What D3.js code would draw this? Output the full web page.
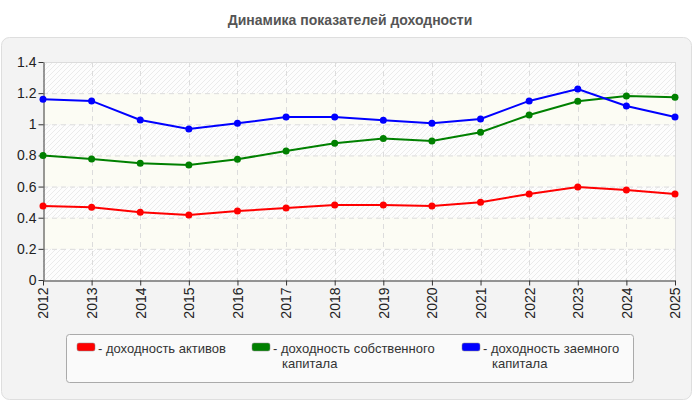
<!DOCTYPE html>
<html>
<head>
<meta charset="utf-8">
<script src="https://cdn.jsdelivr.net/npm/d3@7"></script>
<style>
body{margin:0;background:#fff;font-family:"Liberation Sans",Arial,sans-serif;}
</style>
</head>
<body>
<svg id="chart" width="700" height="400"></svg>
<script>
var years=[2012,2013,2014,2015,2016,2017,2018,2019,2020,2021,2022,2023,2024,2025];
var assets=[0.475,0.467,0.435,0.417,0.443,0.462,0.481,0.481,0.476,0.5,0.553,0.597,0.578,0.553];
var equity=[0.8,0.777,0.749,0.738,0.775,0.829,0.878,0.908,0.893,0.949,1.06,1.148,1.182,1.173];
var debt=[1.16,1.15,1.028,0.97,1.006,1.047,1.047,1.026,1.006,1.034,1.15,1.227,1.117,1.047];
var yTicks=[0,0.2,0.4,0.6,0.8,1,1.2,1.4];
var names=["- доходность активов",["- доходность собственного","капитала"],["- доходность заемного","капитала"]];
var colours=["#ff0000","#008000","#0000ff"];

var svg=d3.select("#chart");
var margin={top:62,left:43},
width=632,height=218;

var x=d3.scaleLinear().domain([2012,2025]).range([0,width]);
var y=d3.scaleLinear().domain([0,1.4]).range([height,0]);

// title
svg.append("text").attr("x",350).attr("y",25).attr("text-anchor","middle")
 .style("font-size","14px").style("font-weight","bold").style("fill","#555")
 .text("Динамика показателей доходности");

// panel
svg.append("rect").attr("x",1.5).attr("y",37.5).attr("width",690).attr("height",362)
 .attr("rx",8).attr("fill","#f3f3f3").attr("stroke","#dedede");

var defs=svg.append("defs");
var pat=defs.append("pattern").attr("id","hatch").attr("patternUnits","userSpaceOnUse")
 .attr("width",5).attr("height",5);
pat.append("rect").attr("width",5).attr("height",5).attr("fill","#fdfdfd");
pat.append("path").attr("d","M-1,1 l2,-2 M0,5 l5,-5 M4,6 l2,-2").attr("stroke","#ebebeb").attr("stroke-width",1);

var g=svg.append("g").attr("transform","translate("+margin.left+","+margin.top+")");

// bands
for(var i=0;i<yTicks.length-1;i++){
  g.append("rect").attr("x",0).attr("width",width)
   .attr("y",y(yTicks[i+1])).attr("height",y(yTicks[i])-y(yTicks[i+1]))
   .attr("fill",i%2==0?"url(#hatch)":"#fcfcf4");
}

// grid
g.selectAll(".hgrid").data(yTicks.slice(1)).enter().append("line")
 .attr("x1",0).attr("x2",width).attr("y1",function(d){return y(d)+0.5;}).attr("y2",function(d){return y(d)+0.5;})
 .attr("stroke","#dcdcdc").attr("stroke-dasharray",function(d){return d==1.4?null:"5,4";});
g.selectAll(".vgrid").data(years.slice(1)).enter().append("line")
 .attr("y1",0).attr("y2",height).attr("x1",function(d){return Math.round(x(d))+0.5;}).attr("x2",function(d){return Math.round(x(d))+0.5;})
 .attr("stroke","#dcdcdc").attr("stroke-dasharray",function(d){return d==2025?null:"5,4";});

// axes
var Yaxis=g.append("g").attr("transform","translate(0.5,0)")
 .call(d3.axisLeft(y).tickValues(yTicks).tickFormat(function(d){return d3.format("")(+d.toFixed(1));}).tickSize(5).tickSizeOuter(0));
var Xaxis=g.append("g").attr("transform","translate(0,"+(height+0.5)+")")
 .call(d3.axisBottom(x).tickValues(years).tickFormat(d3.format("d")).tickSize(5).tickSizeOuter(0));
[Yaxis,Xaxis].forEach(function(a){
  a.select(".domain").attr("stroke","#333");
  a.selectAll(".tick line").attr("stroke","#333");
  a.selectAll("text").style("font-size","14px").style("fill","#222").style("font-family","'Liberation Sans',Arial,sans-serif");
});
Yaxis.selectAll("text").attr("x",-7);
Xaxis.selectAll("text").attr("transform","rotate(-90)").attr("text-anchor","end")
 .attr("x",-7).attr("y",0).attr("dy","0.35em");

// lines
[assets,equity,debt].forEach(function(vals,k){
  var data=years.map(function(yr,j){return {year:yr,v:vals[j]};});
  var line=d3.line().x(function(d){return x(d.year);}).y(function(d){return y(d.v);});
  g.append("path").datum(data).attr("d",line).attr("fill","none")
   .attr("stroke",colours[k]).attr("stroke-width",2);
  g.selectAll(".pt"+k).data(data).enter().append("circle")
   .attr("cx",function(d){return x(d.year);}).attr("cy",function(d){return y(d.v);})
   .attr("r",3.5).attr("fill",colours[k]);
});

// legend
svg.append("rect").attr("x",66.5).attr("y",334.5).attr("width",567).attr("height",48)
 .attr("rx",3).attr("fill","#fafafa").attr("stroke","#aaa");
var lx=[77,252,462];
names.forEach(function(n,k){
  var lg=svg.append("g").attr("transform","translate("+lx[k]+",343)");
  lg.append("rect").attr("width",18).attr("height",8).attr("rx",2).attr("fill",colours[k]).attr("stroke","#888").attr("stroke-width",0.5);
  var lines=Array.isArray(n)?n:[n];
  lines.forEach(function(t,j){
    lg.append("text").attr("x",j==0?21:30).attr("y",10+j*14.5)
     .style("font-size","13px").style("fill","#333").text(t);
  });
});
</script>
</body>
</html>
